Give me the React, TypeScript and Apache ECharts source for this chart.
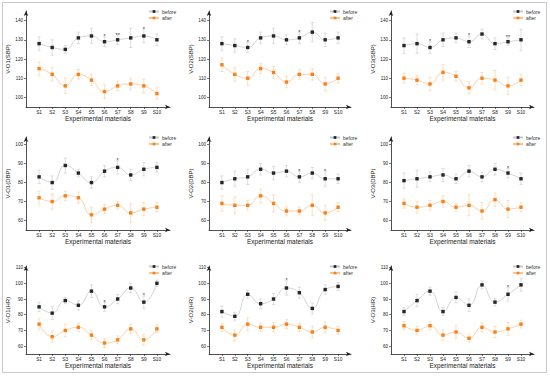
import React, { useEffect, useRef } from "react";
import * as echarts from "echarts";

const categories = ["S1", "S2", "S3", "S4", "S5", "S6", "S7", "S8", "S9", "S10"];
const yNames = ["V-O1(SBP)", "V-O2(SBP)", "V-O3(SBP)", "V-O1(DBP)", "V-O2(DBP)", "V-O3(DBP)", "V-O1(HR)", "V-O2(HR)", "V-O3(HR)"];

const before1 = [128, 126, 125, 131, 132, 129, 130, 131, 132, 130];
const beforeErr1 = [3.5, 4, 2, 3, 4, 2.5, 2.5, 5, 3.5, 3];
const after1 = [115, 112, 106, 112, 109, 103, 106, 107, 106, 102];
const afterErr1 = [3.5, 3.5, 4, 2.5, 3, 3.5, 2.5, 3, 3.5, 3];
const stars1 = ["", "", "", "", "", "*", "**", "", "*", ""];

const before2 = [128, 127, 126, 131, 132, 130, 131, 134, 130, 131];
const beforeErr2 = [3.5, 3.5, 2.5, 3, 4, 2.5, 3, 5, 3.5, 3];
const after2 = [117, 112, 110, 115, 113, 108, 112, 112, 107, 110];
const afterErr2 = [3.5, 3.5, 3.5, 2.5, 3, 3, 2.5, 3, 3.5, 2.5];
const stars2 = ["", "", "*", "", "", "", "*", "", "", ""];

const before3 = [127, 128, 126, 130, 131, 129, 133, 128, 129, 130];
const beforeErr3 = [4, 5, 3, 3.5, 2.5, 3, 2.5, 3, 2, 5.5];
const after3 = [110, 109, 107, 113, 111, 105, 110, 109, 106, 109];
const afterErr3 = [2.5, 2.5, 3.5, 4, 2.5, 3, 3, 5, 4.5, 3];
const stars3 = ["", "", "*", "", "", "*", "", "", "**", ""];

const before4 = [83, 80, 89, 85, 80, 86, 88, 84, 87, 88];
const beforeErr4 = [3.5, 3.5, 4, 2, 3, 3, 3.5, 3, 3.5, 2.5];
const after4 = [72, 70, 73, 72, 63, 66, 68, 64, 66, 67];
const afterErr4 = [3.5, 4, 2.5, 3, 4, 2.5, 2, 5, 3.5, 2.5];
const stars4 = ["", "", "", "", "", "", "*", "", "", ""];

const before5 = [80, 82, 83, 87, 85, 86, 83, 85, 82, 82];
const beforeErr5 = [3.5, 4, 4, 3, 3.5, 3, 3, 3, 4, 2.5];
const after5 = [69, 68, 68, 73, 69, 65, 65, 68, 64, 67];
const afterErr5 = [4, 4.5, 2.5, 3.5, 4.5, 2.5, 2, 5.5, 4, 2.5];
const stars5 = ["", "", "", "", "", "", "*", "", "*", ""];

const before6 = [81, 82, 83, 84, 82, 86, 83, 87, 85, 82];
const beforeErr6 = [4, 4.5, 2.5, 3.5, 2.5, 3, 2.5, 3, 2.5, 3];
const after6 = [69, 67, 68, 70, 67, 68, 65, 71, 66, 67];
const afterErr6 = [2.5, 3, 2.5, 3, 2, 5.5, 4.5, 3.5, 4.5, 2.5];
const stars6 = ["", "", "", "", "", "", "", "", "*", ""];

const before7 = [85, 81, 89, 86, 95, 85, 90, 97, 88, 100];
const beforeErr7 = [3, 4, 2, 3, 4, 3, 3, 3, 4, 2];
const after7 = [74, 66, 70, 72, 67, 62, 64, 71, 64, 71];
const afterErr7 = [3.5, 3.5, 4, 2.5, 3, 3, 2.5, 3, 3.5, 2.5];
const stars7 = ["", "", "", "", "", "*", "", "", "*", ""];

const before8 = [82, 79, 93, 87, 90, 97, 94, 84, 96, 98];
const beforeErr8 = [3.5, 2.5, 2.5, 3, 3.5, 4.5, 3.5, 3.5, 3, 2.5];
const after8 = [72, 67, 74, 72, 72, 74, 72, 69, 72, 70];
const afterErr8 = [2.5, 3.5, 4, 2.5, 3, 3, 2.5, 3.5, 3.5, 2.5];
const stars8 = ["", "", "", "", "", "*", "", "", "", ""];

const before9 = [82, 89, 95, 82, 91, 86, 99, 88, 93, 99];
const beforeErr9 = [2.5, 4, 2.5, 2.5, 3.5, 4, 2.5, 2.5, 4.5, 4];
const after9 = [73, 70, 73, 67, 69, 65, 72, 69, 71, 74];
const afterErr9 = [2.5, 2.5, 2.5, 3.5, 4, 2.5, 3, 3.5, 4, 2.5];
const stars9 = ["", "", "", "", "", "", "", "", "*", ""];

const befores = [before1, before2, before3, before4, before5, before6, before7, before8, before9];
const beforeErrs = [beforeErr1, beforeErr2, beforeErr3, beforeErr4, beforeErr5, beforeErr6, beforeErr7, beforeErr8, beforeErr9];
const afters = [after1, after2, after3, after4, after5, after6, after7, after8, after9];
const afterErrs = [afterErr1, afterErr2, afterErr3, afterErr4, afterErr5, afterErr6, afterErr7, afterErr8, afterErr9];
const starsAll = [stars1, stars2, stars3, stars4, stars5, stars6, stars7, stars8, stars9];

const rowYMin = [95, 55, 55];
const rowYMax = [145, 104, 111];
const rowYTicks = [
  [100, 110, 120, 130, 140],
  [60, 70, 80, 90, 100],
  [60, 70, 80, 90, 100, 110],
];

const cols = [
  { left: 26, right: 170 },
  { left: 209, right: 351 },
  { left: 391, right: 534 },
];
const rows = [
  { top: 11, bottom: 107 },
  { top: 137, bottom: 230 },
  { top: 266, bottom: 354 },
];

const FONT = "'Liberation Sans', Arial, sans-serif";
const BEFORE_MARK = "#262626";
const BEFORE_LINE = "#c9c9c9";
const BEFORE_ERR = "#cfcfcf";
const AFTER_MARK = "#f5821f";
const AFTER_LINE = "#fac48f";
const AFTER_ERR = "#fbd3a8";

function errSeries(idx: number, vals: number[], errs: number[], color: string, stars: string[] | null) {
  return {
    type: "custom",
    xAxisIndex: idx,
    yAxisIndex: idx,
    z: 1,
    silent: true,
    data: vals.map((v, i) => [i + 1, v, errs[i]]),
    renderItem: (params: any, api: any) => {
      const x = api.value(0);
      const v = api.value(1);
      const e = api.value(2);
      const top = api.coord([x, v + e]);
      const bot = api.coord([x, v - e]);
      const hw = 1.6;
      const st = { stroke: color, lineWidth: 0.7 };
      const children: any[] = [
        { type: "line", shape: { x1: top[0], y1: top[1], x2: bot[0], y2: bot[1] }, style: st },
        { type: "line", shape: { x1: top[0] - hw, y1: top[1], x2: top[0] + hw, y2: top[1] }, style: st },
        { type: "line", shape: { x1: bot[0] - hw, y1: bot[1], x2: bot[0] + hw, y2: bot[1] }, style: st },
      ];
      if (stars && stars[params.dataIndex]) {
        children.push({
          type: "text",
          x: top[0],
          y: top[1] + 2.5,
          style: {
            text: stars[params.dataIndex],
            align: "center",
            verticalAlign: "bottom",
            fontSize: 5.5,
            fontFamily: FONT,
            fill: "#333",
          },
        });
      }
      return { type: "group", children };
    },
  };
}

export default function App() {
  const ref = useRef<HTMLDivElement>(null);
  useEffect(() => {
    if (!ref.current) return;
    const chart = echarts.init(ref.current, undefined, { renderer: "svg" });
    const grid: any[] = [];
    const xAxis: any[] = [];
    const yAxis: any[] = [];
    const series: any[] = [];
    const legend: any[] = [];
    for (let p = 0; p < 9; p++) {
      const r = Math.floor(p / 3);
      const c = p % 3;
      grid.push({
        left: cols[c].left,
        width: cols[c].right - cols[c].left,
        top: rows[r].top,
        height: rows[r].bottom - rows[r].top,
        containLabel: false,
      });
      xAxis.push({
        type: "value",
        gridIndex: p,
        min: 0,
        max: 11,
        name: "Experimental materials",
        nameLocation: "middle",
        nameGap: 7.5,
        nameTextStyle: { fontSize: 6.5, fontFamily: FONT, color: "#222", verticalAlign: "top" },
        axisLine: { lineStyle: { color: "#222", width: 0.8 }, symbol: ["none", "arrow"], symbolSize: [3.5, 5] },
        axisTick: { show: true, length: 2, lineStyle: { color: "#222", width: 0.6 }, customValues: [1, 2, 3, 4, 5, 6, 7, 8, 9, 10] },
        axisLabel: {
          customValues: [1, 2, 3, 4, 5, 6, 7, 8, 9, 10],
          formatter: (v: number) => categories[Math.round(v) - 1] ?? "",
          fontSize: 4.8,
          fontFamily: FONT,
          color: "#222",
          margin: 2.5,
        },
        splitLine: { show: false },
      });
      yAxis.push({
        type: "value",
        gridIndex: p,
        min: rowYMin[r],
        max: rowYMax[r],
        name: yNames[p],
        nameLocation: "middle",
        nameGap: 4,
        nameRotate: 90,
        nameTextStyle: { fontSize: 6, fontFamily: FONT, color: "#222", verticalAlign: "bottom" },
        axisLine: { show: true, lineStyle: { color: "#222", width: 0.8 }, symbol: ["none", "arrow"], symbolSize: [3.5, 5] },
        axisTick: { show: true, length: 2, lineStyle: { color: "#222", width: 0.6 }, customValues: rowYTicks[r] },
        axisLabel: { customValues: rowYTicks[r], fontSize: 4.6, fontFamily: FONT, color: "#222", margin: 3 },
        splitLine: { show: false },
      });
      series.push(errSeries(p, befores[p], beforeErrs[p], BEFORE_ERR, starsAll[p]));
      series.push(errSeries(p, afters[p], afterErrs[p], AFTER_ERR, null));
      series.push({
        type: "line",
        name: "before",
        xAxisIndex: p,
        yAxisIndex: p,
        z: 3,
        smooth: 0.5,
        data: befores[p].map((v, i) => [i + 1, v]),
        symbol: "rect",
        symbolSize: 3.4,
        itemStyle: { color: BEFORE_MARK },
        lineStyle: { color: BEFORE_LINE, width: 0.8 },
      });
      series.push({
        type: "line",
        name: "after",
        xAxisIndex: p,
        yAxisIndex: p,
        z: 3,
        smooth: 0.5,
        data: afters[p].map((v, i) => [i + 1, v]),
        symbol: "rect",
        symbolSize: 3.4,
        itemStyle: { color: AFTER_MARK },
        lineStyle: { color: AFTER_LINE, width: 0.8 },
      });
      legend.push({
        data: ["before", "after"],
        orient: "vertical",
        left: cols[c].right - 22,
        top: rows[r].top - 2,
        itemWidth: 10,
        itemHeight: 3.4,
        itemGap: 1.5,
        padding: 0,
        selectedMode: false,
        textStyle: { fontSize: 5, fontFamily: FONT, color: "#333", padding: [0, 0, 0, -2] },
      });
    }
    chart.setOption({
      animation: false,
      backgroundColor: "#ffffff",
      grid,
      xAxis,
      yAxis,
      series,
      legend,
      graphic: [
        {
          type: "rect",
          shape: { x: 2.5, y: 2.5, width: 544, height: 370 },
          style: { fill: "none", stroke: "#c8c8c8", lineWidth: 1 },
          silent: true,
        },
      ],
    });
    return () => chart.dispose();
  }, []);
  return <div ref={ref} style={{ width: 550, height: 377, position: "absolute", left: 0, top: 0 }} />;
}
